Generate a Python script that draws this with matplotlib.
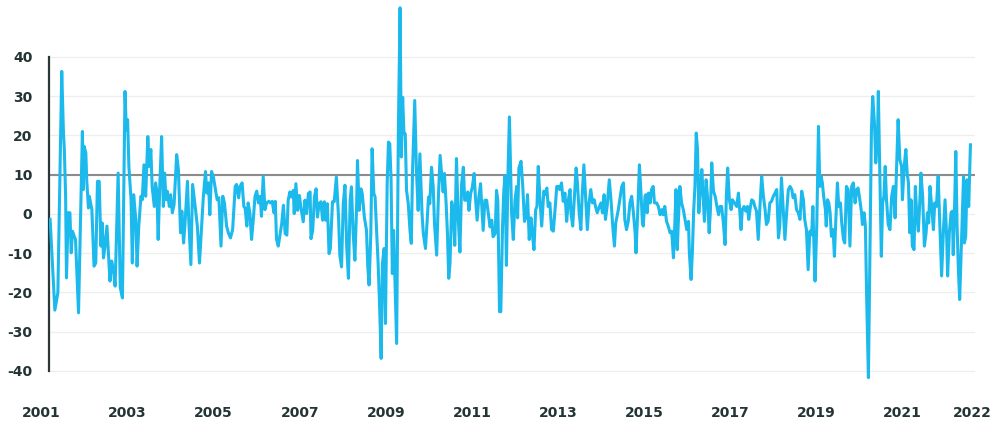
import numpy as np
import matplotlib
matplotlib.use("Agg")
import matplotlib.pyplot as plt
import matplotlib.transforms as mtransforms

# turning points, decimal years / value
dates_01_03 = [2001.20, 2001.31, 2001.38, 2001.47, 2001.51, 2001.53, 2001.56, 2001.58,
               2001.62, 2001.66, 2001.69, 2001.72, 2001.76, 2001.79, 2001.86, 2001.95,
               2001.97, 2001.99, 2002.03, 2002.05, 2002.09, 2002.11, 2002.17, 2002.22,
               2002.26, 2002.30, 2002.34, 2002.38, 2002.41, 2002.44, 2002.47, 2002.52,
               2002.59, 2002.63, 2002.67, 2002.71, 2002.75, 2002.78, 2002.83, 2002.88,
               2002.94, 2002.97, 2003.00, 2003.03, 2003.08, 2003.11, 2003.14, 2003.19,
               2003.22, 2003.26, 2003.31, 2003.34, 2003.38, 2003.42, 2003.47, 2003.50,
               2003.54, 2003.57, 2003.62, 2003.65, 2003.68, 2003.71, 2003.75, 2003.79]
values_01_03 = [-1.4, -24.5, -20.1, 36.3, 20.6, 16.4, 4.5, -16.3,
                0.3, 0.3, -9.9, -4.4, -5.7, -6.5, -25.2, 21.0,
                6.2, 17.2, 15.5, 8.7, 1.5, 4.5, 1.1, -13.3,
                -12.5, 8.3, 8.3, -8.2, -2.3, -11.2, -8.6, -3.1,
                -17.1, -12.0, -14.2, -18.4, -1.9, 10.4, -18.8, -21.4,
                31.2, 21.4, 24.0, 12.1, 3.6, -12.5, 4.9, -1.4,
                -13.3, -3.1, 4.5, 3.6, 12.5, 4.5, 19.7, 12.1,
                16.4, 7.0, 1.9, 7.9, 5.8, -6.5, 7.9, 19.7]

dates_03_06 = [2003.83, 2003.86, 2003.89, 2003.92, 2003.97, 2004.00, 2004.04, 2004.08,
               2004.14, 2004.18, 2004.23, 2004.26, 2004.30, 2004.33, 2004.39, 2004.42,
               2004.47, 2004.51, 2004.57, 2004.62, 2004.67, 2004.71, 2004.76, 2004.81,
               2004.84, 2004.88, 2004.91, 2004.95, 2004.99, 2005.03, 2005.08, 2005.12,
               2005.17, 2005.21, 2005.25, 2005.30, 2005.34, 2005.39, 2005.44, 2005.50,
               2005.53, 2005.58, 2005.61, 2005.66, 2005.70, 2005.73, 2005.77, 2005.80,
               2005.84, 2005.88, 2005.92, 2005.96, 2006.00, 2006.04, 2006.08, 2006.11,
               2006.15, 2006.19, 2006.23, 2006.28, 2006.32, 2006.36, 2006.40, 2006.43,
               2006.46, 2006.50]
values_03_06 = [1.9, 10.4, 3.6, 5.8, 1.9, 4.9, 0.3, 2.4,
                15.1, 11.3, -4.8, 0.7, -7.4, -3.1, 8.3, -1.4,
                -12.9, 7.5, 1.9, -3.1, -12.5, -4.8, 4.5, 10.8,
                5.3, 7.9, -0.2, 10.8, 9.6, 7.0, 3.6, 4.1,
                -8.2, 4.5, 2.8, -3.1, -4.8, -6.1, -4.0, 7.0,
                7.5, 4.1, 7.0, 7.9, 1.9, 1.5, -3.1, 2.8,
                0.3, -6.5, -1.4, 4.5, 5.8, 2.8, 4.5, -0.6,
                9.6, 1.1, 2.8, 3.2, 2.8, 3.2, 0.3, 3.2,
                -6.5, -8.2]

dates_06_09 = [2006.58, 2006.62, 2006.66, 2006.70, 2006.73, 2006.77, 2006.81, 2006.85,
               2006.87, 2006.91, 2006.95, 2006.99, 2007.03, 2007.08, 2007.12, 2007.16,
               2007.20, 2007.24, 2007.26, 2007.30, 2007.34, 2007.38, 2007.41, 2007.45,
               2007.49, 2007.53, 2007.57, 2007.60, 2007.64, 2007.68, 2007.71, 2007.76,
               2007.80, 2007.85, 2007.90, 2007.93, 2007.97, 2008.01, 2008.05, 2008.09,
               2008.13, 2008.17, 2008.20, 2008.24, 2008.28, 2008.32, 2008.34, 2008.38,
               2008.42, 2008.45, 2008.50, 2008.55, 2008.58, 2008.61, 2008.65, 2008.68,
               2008.72, 2008.75, 2008.78, 2008.82, 2008.85, 2008.89, 2008.92, 2008.96,
               2008.99, 2009.03, 2009.06, 2009.09, 2009.12, 2009.15, 2009.18]
values_06_09 = [-2.5, 2.2, -5.0, -5.4, 3.5, 5.6, 4.3, 6.0,
                0.1, 7.7, 0.9, 4.7, 1.4, -2.0, 3.5, 0.1,
                5.2, 5.6, -6.3, -4.2, 4.3, 6.4, -0.8, 2.6,
                3.1, -1.6, 3.1, -1.6, 2.6, -10.1, -8.8, 3.1,
                3.1, 9.4, -0.8, -10.5, -13.5, 2.6, 7.3, -8.4,
                -16.4, 3.5, 6.9, -5.0, -11.8, 1.8, 13.6, 0.9,
                6.4, 5.2, -0.8, -4.2, -13.5, -18.1, -5.0, 16.6,
                5.2, 4.3, -3.3, -12.6, -21.9, -36.8, -12.6, -8.8,
                -27.9, 7.7, 18.3, 17.9, 9.0, -15.2, -4.2]

dates_09_11 = [2009.25, 2009.29, 2009.33, 2009.36, 2009.39, 2009.42, 2009.45, 2009.48,
               2009.52, 2009.56, 2009.59, 2009.62, 2009.67, 2009.71, 2009.75, 2009.79,
               2009.84, 2009.87, 2009.92, 2009.96, 2009.99, 2010.02, 2010.06, 2010.10,
               2010.13, 2010.18, 2010.22, 2010.26, 2010.30, 2010.33, 2010.36, 2010.40,
               2010.43, 2010.46, 2010.49, 2010.53, 2010.57, 2010.60, 2010.64, 2010.68,
               2010.72, 2010.76, 2010.80, 2010.83, 2010.86, 2010.90, 2010.93, 2010.97,
               2011.01, 2011.05, 2011.08, 2011.12, 2011.16, 2011.20, 2011.22, 2011.26,
               2011.30, 2011.34, 2011.38, 2011.42, 2011.46, 2011.49, 2011.54, 2011.57,
               2011.60, 2011.64, 2011.67, 2011.71, 2011.74, 2011.77, 2011.80, 2011.84,
               2011.87]
values_09_11 = [-33.0, 21.3, 52.5, 14.5, 29.7, 20.4, 20.4, 6.0,
                2.6, -4.2, -7.5, 11.1, 28.9, 11.1, 0.9, 15.3,
                0.1, -5.0, -8.8, -1.6, 4.3, 2.6, 11.9, 6.9,
                -2.5, -10.5, 4.3, 14.9, 9.4, 5.6, 10.3, 2.6,
                -5.0, -16.4, -12.6, 3.1, 0.1, -8.0, 14.1, -0.8,
                -9.7, 7.7, 11.9, 3.5, 3.5, 5.6, 0.9, 5.2,
                6.9, 10.3, 4.3, -1.6, 4.3, 7.7, 3.5, -4.2,
                3.5, 3.5, 0.1, -3.3, -1.6, -5.8, -5.0, 6.0,
                3.5, -24.9, -24.9, -3.3, 6.0, 9.8, -13.1, 11.9,
                24.7]

dates_11_14 = [2011.92, 2011.96, 2012.00, 2012.04, 2012.06, 2012.09, 2012.14, 2012.18,
               2012.22, 2012.26, 2012.29, 2012.33, 2012.37, 2012.40, 2012.44, 2012.48,
               2012.51, 2012.54, 2012.58, 2012.62, 2012.67, 2012.70, 2012.74, 2012.77,
               2012.81, 2012.85, 2012.89, 2012.93, 2012.97, 2013.01, 2013.04, 2013.08,
               2013.12, 2013.16, 2013.20, 2013.24, 2013.28, 2013.30, 2013.34, 2013.38,
               2013.42, 2013.45, 2013.49, 2013.53, 2013.56, 2013.60, 2013.64, 2013.68,
               2013.72, 2013.76, 2013.80, 2013.84, 2013.87, 2013.91, 2013.96, 2014.00,
               2014.03, 2014.07, 2014.10, 2014.14, 2014.19, 2014.23, 2014.27, 2014.31,
               2014.34, 2014.40]
values_11_14 = [0.3, -6.5, 3.6, 7.0, -1.0, 11.7, 13.4, 7.0,
                -1.9, -0.6, 4.9, -6.5, -1.0, -4.8, -9.1, 1.1,
                1.9, 12.1, 3.6, -3.1, 5.8, 4.9, 6.6, 1.9,
                2.8, -4.0, -4.4, 1.1, 7.0, 7.0, 6.2, 7.9,
                3.2, 5.3, -1.9, 3.6, 6.2, 0.3, -3.1, 4.5,
                11.7, 7.9, 0.3, -4.0, 4.5, 12.5, 4.5, -4.0,
                2.8, 6.2, 2.8, 3.6, 1.9, 0.3, 1.9, 2.8,
                0.3, 4.9, -1.4, 1.9, 8.7, 3.6, -3.1, -8.2,
                -2.3, 1.1]

dates_14_17 = [2014.48, 2014.52, 2014.55, 2014.59, 2014.63, 2014.67, 2014.71, 2014.75,
               2014.79, 2014.81, 2014.85, 2014.89, 2014.93, 2014.96, 2014.98, 2015.02,
               2015.04, 2015.07, 2015.10, 2015.14, 2015.17, 2015.21, 2015.24, 2015.29,
               2015.33, 2015.37, 2015.41, 2015.44, 2015.48, 2015.52, 2015.56, 2015.60,
               2015.64, 2015.68, 2015.70, 2015.74, 2015.77, 2015.79, 2015.83, 2015.87,
               2015.91, 2015.95, 2015.99, 2016.03, 2016.05, 2016.09, 2016.12, 2016.15,
               2016.18, 2016.21, 2016.24, 2016.27, 2016.30, 2016.34, 2016.37, 2016.40,
               2016.44, 2016.47, 2016.51, 2016.54, 2016.57, 2016.61, 2016.65, 2016.69,
               2016.73, 2016.76, 2016.80, 2016.84, 2016.88, 2016.91, 2016.94, 2016.98,
               2017.02, 2017.05]
values_14_17 = [7.0, 7.9, -1.4, -4.0, -1.9, 2.8, 4.5, 0.3,
                -4.8, -9.9, 0.3, 12.5, 4.5, -2.3, -3.1, 4.5,
                4.9, 0.3, 5.3, 2.8, 6.2, 7.0, 2.8, 2.8,
                1.9, -0.2, 1.1, -0.2, 1.9, -1.9, -3.1, -4.8,
                -4.4, -11.2, -6.5, 6.2, -9.1, -3.1, 7.0, 2.8,
                1.1, -1.4, -4.0, -1.9, -9.9, -16.7, -9.9, 0.7,
                7.0, 20.6, 16.4, 0.3, 5.3, 11.3, 4.5, -1.9,
                8.7, 4.5, -4.8, 1.1, 13.0, 5.8, 4.5, 1.9,
                -0.2, 1.9, 1.9, -2.3, -7.8, 4.5, 11.7, 3.6,
                1.1, 3.6]

dates_17_19 = [2017.15, 2017.19, 2017.23, 2017.25, 2017.28, 2017.32, 2017.36, 2017.40,
               2017.43, 2017.47, 2017.50, 2017.54, 2017.57, 2017.61, 2017.65, 2017.69,
               2017.73, 2017.77, 2017.81, 2017.84, 2017.88, 2017.92, 2017.96, 2018.00,
               2018.04, 2018.08, 2018.12, 2018.15, 2018.19, 2018.23, 2018.27, 2018.31,
               2018.35, 2018.39, 2018.43, 2018.46, 2018.50, 2018.54, 2018.58, 2018.62,
               2018.66, 2018.70, 2018.73, 2018.77, 2018.81, 2018.85, 2018.89, 2018.92,
               2018.94, 2018.97, 2019.01, 2019.05, 2019.08, 2019.11, 2019.14, 2019.17,
               2019.21, 2019.23, 2019.26, 2019.29, 2019.32, 2019.35, 2019.39, 2019.42,
               2019.45, 2019.49, 2019.52, 2019.56, 2019.59, 2019.63, 2019.66, 2019.70,
               2019.74, 2019.78]
values_17_19 = [1.9, 5.3, -0.6, -4.0, 1.1, 1.9, 0.7, 1.9,
                -1.4, 1.9, 3.6, 3.2, 1.9, 0.7, -6.5, 1.9,
                9.6, 4.5, 1.1, -2.7, -1.9, 2.8, 3.2, 4.5,
                5.3, 6.2, -6.1, -3.1, 9.2, 1.1, -6.5, 0.3,
                6.2, 7.0, 6.2, 4.1, 4.9, 1.1, 0.3, -1.4,
                5.8, 3.6, -1.4, -4.0, -14.2, -4.4, -5.3, 1.9,
                -6.5, -17.1, -3.1, 22.3, 7.0, 9.6, 7.9, 4.5,
                1.1, -3.1, 3.6, 2.8, 0.3, -5.7, -4.0, -10.8,
                -2.3, 7.9, 1.9, 2.8, -2.3, -6.5, -7.4, 7.0,
                6.2, -8.2]

dates_19_22 = [2019.82, 2019.86, 2019.90, 2019.94, 2019.97, 2020.01, 2020.05, 2020.07,
               2020.11, 2020.14, 2020.17, 2020.21, 2020.24, 2020.28, 2020.31, 2020.35,
               2020.38, 2020.42, 2020.44, 2020.47, 2020.51, 2020.54, 2020.57, 2020.60,
               2020.63, 2020.67, 2020.71, 2020.75, 2020.79, 2020.83, 2020.86, 2020.90,
               2020.94, 2020.98, 2021.00, 2021.04, 2021.08, 2021.11, 2021.14, 2021.17,
               2021.20, 2021.23, 2021.27, 2021.30, 2021.33, 2021.37, 2021.41, 2021.43,
               2021.47, 2021.51, 2021.55, 2021.58, 2021.61, 2021.64, 2021.68, 2021.72,
               2021.75, 2021.79, 2021.83, 2021.87, 2021.91, 2021.95, 2021.99, 2022.03,
               2022.05, 2022.09, 2022.13, 2022.16, 2022.18, 2022.21, 2022.24, 2022.27,
               2022.30, 2022.33, 2022.37, 2022.40, 2022.42, 2022.44, 2022.47, 2022.50,
               2022.54, 2022.56, 2022.58]
values_19_22 = [7.0, 7.9, 2.8, 6.2, 6.6, 3.6, 0.3, -2.7,
                0.3, -3.1, -21.8, -41.7, -15.0, 21.4, 29.9, 23.1,
                13.0, 18.9, 31.2, 13.8, -10.8, 2.8, 4.5, 12.1,
                3.6, -2.7, -4.0, 4.5, 7.0, -1.0, 10.4, 24.0,
                13.8, 12.1, 3.6, 12.1, 16.4, 10.4, 7.9, -4.8,
                3.6, -8.2, -9.1, 7.0, 0.3, -4.4, 4.5, 10.4,
                4.5, -8.2, -4.8, 0.3, -2.3, 7.0, 1.9, -4.0,
                2.8, 1.9, 9.6, -3.1, -15.8, -4.8, 3.6, -6.5,
                -15.8, -4.8, 0.3, 0.7, -10.4, 1.1, 15.9, -3.1,
                -14.2, -21.8, -8.2, 1.9, 9.6, -7.4, -5.7, 8.7,
                1.9, 9.6, 17.6]

year_ticks = [2001, 2003, 2005, 2007, 2009, 2011, 2013, 2015, 2017, 2019, 2021, 2022.63]
year_labels = ['2001', '2003', '2005', '2007', '2009', '2011', '2013', '2015',
               '2017', '2019', '2021', '2022']
y_ticks = [-40, -30, -20, -10, 0, 10, 20, 30, 40]
threshold = 10

dates = np.concatenate([dates_01_03, dates_03_06, dates_06_09, dates_09_11,
                        dates_11_14, dates_14_17, dates_17_19, dates_19_22])
values = np.concatenate([values_01_03, values_03_06, values_06_09, values_09_11,
                         values_11_14, values_14_17, values_17_19, values_19_22])

text_color = '#243434'
plt.rcParams['font.family'] = ['DejaVu Sans']

fig = plt.figure(figsize=(10, 4.3), dpi=100)
ax = fig.add_axes([0.049, 0.0916, 0.926, 0.904])

ax.plot(dates, values, color='#1cb9ec', lw=2.2, zorder=3)
ax.axhline(threshold, color='#8c8c8c', lw=1.5, zorder=2)

ax.set_xlim(2001.174, 2022.686)
ax.set_ylim(-45, 54)
ax.set_yticks(y_ticks)
ax.set_yticklabels([str(t) for t in y_ticks])
ax.set_xticks([])
ax.yaxis.grid(True, color='#eeeeee', lw=0.9)
ax.set_axisbelow(True)

# year labels as text so the first one can sit left of the axis
trans = mtransforms.blended_transform_factory(ax.transData, ax.transAxes)
for x, lab in zip(year_ticks, year_labels):
    ax.text(x, -0.057, lab, transform=trans, ha='center', va='center',
            fontsize=10, fontweight='bold', color=text_color, clip_on=False)

for s in ['top', 'right', 'bottom']:
    ax.spines[s].set_visible(False)
ax.spines['left'].set_bounds(-40, 40)
ax.spines['left'].set_color('#2a3838')
ax.spines['left'].set_linewidth(1.6)

ax.tick_params(length=0, pad=12, labelsize=10, labelcolor=text_color)
for lbl in ax.get_yticklabels():
    lbl.set_fontweight('bold')

fig.savefig('out.png', dpi=100)
